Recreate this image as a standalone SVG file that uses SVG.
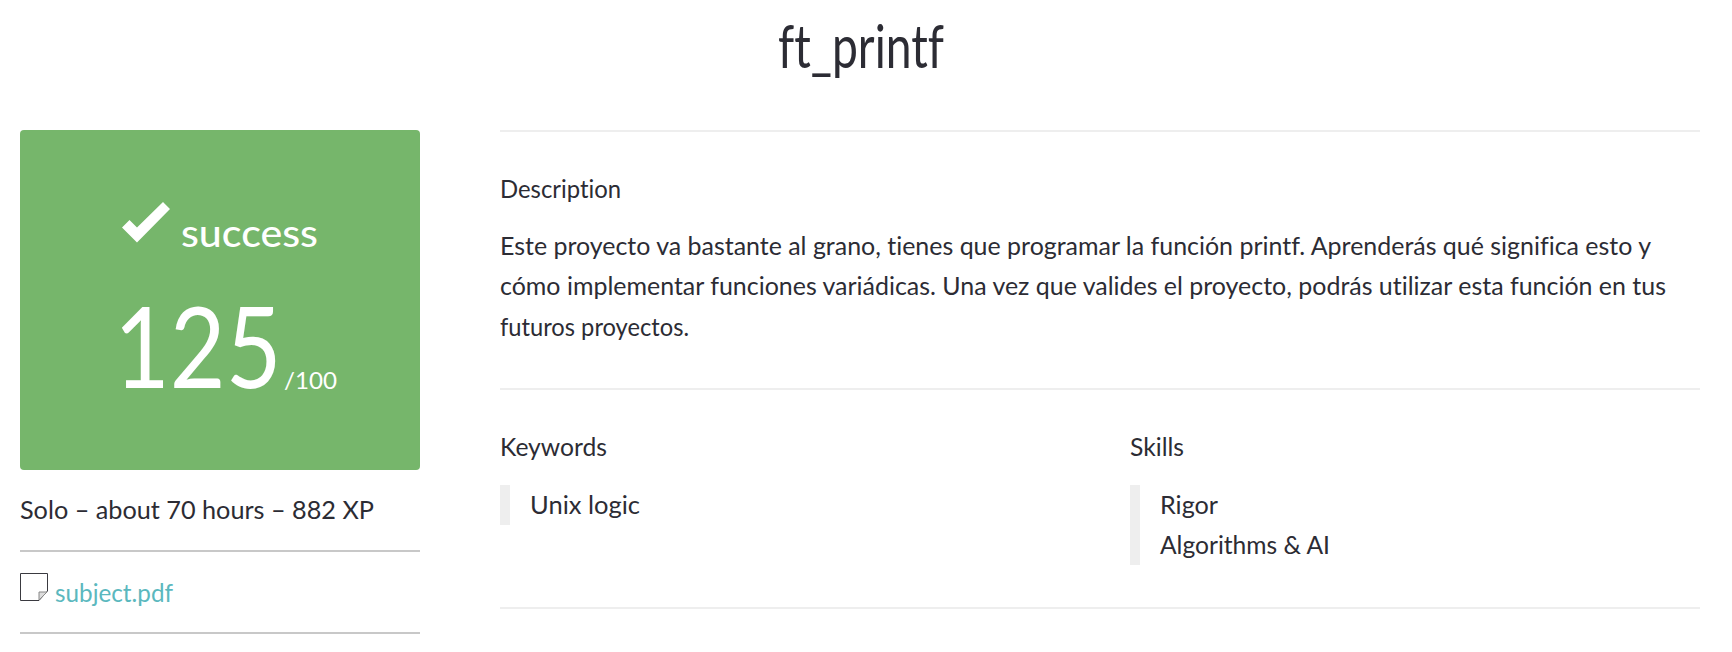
<svg xmlns="http://www.w3.org/2000/svg" width="1732" height="652" viewBox="0 0 1732 652">
<style>
text{font-family:"Lato","Open Sans","Liberation Sans",sans-serif;fill:#2c2c34;font-size:25px;font-variant-ligatures:none}
.w{fill:#fff}
.hr{fill:#eeeeee}
.gr{fill:#c8c8c8}
</style>
<rect width="1732" height="652" fill="#fff"/>
<g id="title"><text x="778" y="68" style="font-size:60px;font-weight:400" textLength="166" lengthAdjust="spacingAndGlyphs">ft_printf</text></g>
<g id="score-card">
<rect x="20" y="130" width="400" height="340" rx="4" fill="#76b66b"/>
<path class="w" d="M122 227.500 L129.500 220 L137 227.500 L163 202 L170 209 L137 242.500 Z"/>
<text class="w" x="181" y="247" style="font-size:38px;font-weight:500" textLength="137" lengthAdjust="spacingAndGlyphs">success</text>
<text class="w" transform="translate(114 388) scale(.86 1)" style="font-size:112px;font-weight:400">125</text>
<text class="w" x="284" y="389" style="font-size:23px;font-weight:400" textLength="53" lengthAdjust="spacingAndGlyphs">/100</text>
</g>
<g id="meta">
<text x="20" y="519" textLength="354" lengthAdjust="spacingAndGlyphs">Solo – about 70 hours – 882 XP</text>
<rect class="gr" x="20" y="550" width="400" height="2"/>
<g id="subject-link">
<path d="M20.500 573.500H47.500V591L39 600.500H20.500Z" fill="#fff" stroke="#3a3a40" stroke-width="1"/>
<path d="M39 600V592H47Z" fill="#ddd" stroke="#888" stroke-width="1"/>
<text x="55" y="602" style="fill:#5bb8be" textLength="118" lengthAdjust="spacingAndGlyphs">subject.pdf</text>
</g>
<rect class="gr" x="20" y="632" width="400" height="2"/>
</g>
<g id="description">
<rect class="hr" x="500" y="130" width="1200" height="2"/>
<text x="500" y="198" textLength="121" lengthAdjust="spacingAndGlyphs">Description</text>
<text x="500" y="255" textLength="1151" lengthAdjust="spacingAndGlyphs">Este proyecto va bastante al grano, tienes que programar la función printf. Aprenderás qué significa esto y</text>
<text x="500" y="295" textLength="1166" lengthAdjust="spacingAndGlyphs">cómo implementar funciones variádicas. Una vez que valides el proyecto, podrás utilizar esta función en tus</text>
<text x="500" y="336" textLength="189" lengthAdjust="spacingAndGlyphs">futuros proyectos.</text>
<rect class="hr" x="500" y="388" width="1200" height="2"/>
</g>
<g id="keywords">
<text x="500" y="456" textLength="107" lengthAdjust="spacingAndGlyphs">Keywords</text>
<rect class="hr" x="500" y="485" width="10" height="40"/>
<text x="530" y="514" textLength="110" lengthAdjust="spacingAndGlyphs">Unix logic</text>
</g>
<g id="skills">
<text x="1130" y="456" textLength="54" lengthAdjust="spacingAndGlyphs">Skills</text>
<rect class="hr" x="1130" y="485" width="10" height="80"/>
<text x="1160" y="514" textLength="58" lengthAdjust="spacingAndGlyphs">Rigor</text>
<text x="1160" y="554" textLength="170" lengthAdjust="spacingAndGlyphs">Algorithms &amp; AI</text>
</g>
<rect class="hr" x="500" y="607" width="1200" height="2"/>
<g id="connectors"/>
</svg>
